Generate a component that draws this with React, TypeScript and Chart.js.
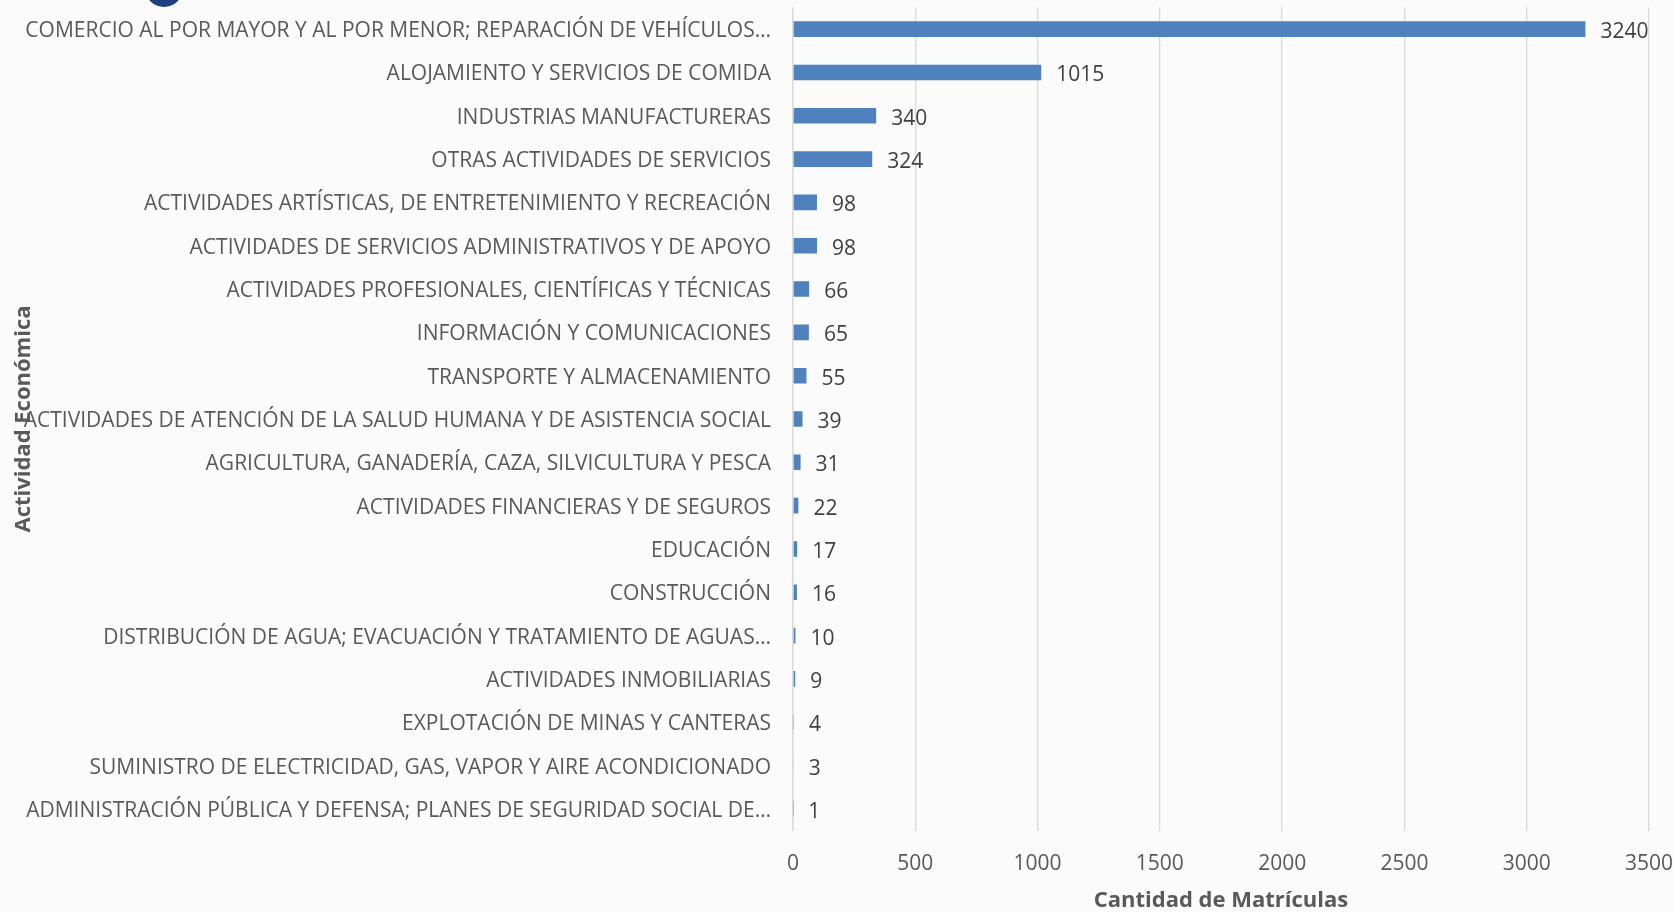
import React, { useEffect, useRef } from "react";
import { Chart, registerables } from "chart.js";

Chart.register(...registerables);

const categories: string[] = [
  "COMERCIO AL POR MAYOR Y AL POR MENOR; REPARACIÓN DE VEHÍCULOS…",
  "ALOJAMIENTO Y SERVICIOS DE COMIDA",
  "INDUSTRIAS MANUFACTURERAS",
  "OTRAS ACTIVIDADES DE SERVICIOS",
  "ACTIVIDADES ARTÍSTICAS, DE ENTRETENIMIENTO Y RECREACIÓN",
  "ACTIVIDADES DE SERVICIOS ADMINISTRATIVOS Y DE APOYO",
  "ACTIVIDADES PROFESIONALES, CIENTÍFICAS Y TÉCNICAS",
  "INFORMACIÓN Y COMUNICACIONES",
  "TRANSPORTE Y ALMACENAMIENTO",
  "ACTIVIDADES DE ATENCIÓN DE LA SALUD HUMANA Y DE ASISTENCIA SOCIAL",
  "AGRICULTURA, GANADERÍA, CAZA, SILVICULTURA Y PESCA",
  "ACTIVIDADES FINANCIERAS Y DE SEGUROS",
  "EDUCACIÓN",
  "CONSTRUCCIÓN",
  "DISTRIBUCIÓN DE AGUA; EVACUACIÓN Y TRATAMIENTO DE AGUAS…",
  "ACTIVIDADES INMOBILIARIAS",
  "EXPLOTACIÓN DE MINAS Y CANTERAS",
  "SUMINISTRO DE ELECTRICIDAD, GAS, VAPOR Y AIRE ACONDICIONADO",
  "ADMINISTRACIÓN PÚBLICA Y DEFENSA; PLANES DE SEGURIDAD SOCIAL DE…",
];

const matriculas: number[] = [3240, 1015, 340, 324, 98, 98, 66, 65, 55, 39, 31, 22, 17, 16, 10, 9, 4, 3, 1];

const xAxisTitle = "Cantidad de Matrículas";
const yAxisTitle = "Actividad Económica";

const FONT = "'Open Sans', Lato, sans-serif";

const valueLabels = {
  id: "valueLabels",
  afterDatasetsDraw(chart: any) {
    const ctx = chart.ctx;
    const meta = chart.getDatasetMeta(0);
    ctx.save();
    ctx.font = `21px ${FONT}`;
    ctx.fillStyle = "#404040";
    ctx.textAlign = "left";
    ctx.textBaseline = "middle";
    meta.data.forEach((bar: any, i: number) => {
      ctx.fillText(String(matriculas[i]), bar.x + 15, bar.y + 3);
    });
    ctx.restore();
  },
};

const background = {
  id: "bgFill",
  beforeDraw(chart: any) {
    const ctx = chart.ctx;
    ctx.save();
    ctx.fillStyle = "#fbfbfc";
    ctx.fillRect(0, 0, chart.width, chart.height);
    ctx.restore();
  },
};

export default function App() {
  const ref = useRef<HTMLCanvasElement>(null);
  useEffect(() => {
    document.body.style.margin = "0";
    const chart = new Chart(ref.current!, {
      type: "bar",
      data: {
        labels: categories,
        datasets: [
          {
            data: matriculas,
            backgroundColor: "#4f81bd",
            borderWidth: 0,
            categoryPercentage: 1,
            barPercentage: 0.36,
          },
        ],
      },
      options: {
        indexAxis: "y",
        animation: false,
        responsive: false,
        layout: { padding: { top: 7.5, right: 25, left: 0, bottom: 0 } },
        plugins: { legend: { display: false }, tooltip: { enabled: false } },
        scales: {
          x: {
            min: 0,
            max: 3500,
            ticks: {
              stepSize: 500,
              color: "#595959",
              font: { family: FONT, size: 21 },
              padding: 21,
              maxRotation: 0,
              callback: (v: any) => String(v),
            },
            grid: { color: "#d9d9d9", lineWidth: 1.3, drawTicks: false },
            border: { display: false },
            title: {
              display: true,
              text: xAxisTitle,
              color: "#595959",
              font: { family: FONT, size: 22, weight: "bold", lineHeight: 1.0 },
              padding: { top: 0, bottom: 0 },
            },
            afterFit(scale: any) {
              scale.height = 81.5;
              scale.paddingLeft = 0;
              scale.paddingRight = 0;
            },
          },
          y: {
            ticks: {
              color: "#595959",
              font: { family: FONT, size: 21 },
              padding: 22,
              labelOffset: 2,
              autoSkip: false,
            },
            grid: { display: false, drawTicks: false },
            border: { display: true, color: "#d9d9d9", width: 1.3 },
            title: {
              display: true,
              text: yAxisTitle,
              color: "#595959",
              font: { family: FONT, size: 22, weight: "bold" },
              padding: { top: 11, bottom: 0 },
            },
            afterFit(scale: any) {
              scale.width = 793;
              scale.paddingTop = 0;
              scale.paddingBottom = 0;
            },
          },
        },
      },
      plugins: [background, valueLabels],
    });
    return () => chart.destroy();
  }, []);
  return (
    <div style={{ position: "relative", width: 1674, height: 912, overflow: "hidden" }}>
      <canvas ref={ref} width={1674} height={912} style={{ display: "block" }} />
      <div
        style={{
          position: "absolute",
          left: 145,
          top: -31,
          width: 38,
          height: 38,
          borderRadius: "50%",
          background: "#1f3f7f",
        }}
      />
    </div>
  );
}
